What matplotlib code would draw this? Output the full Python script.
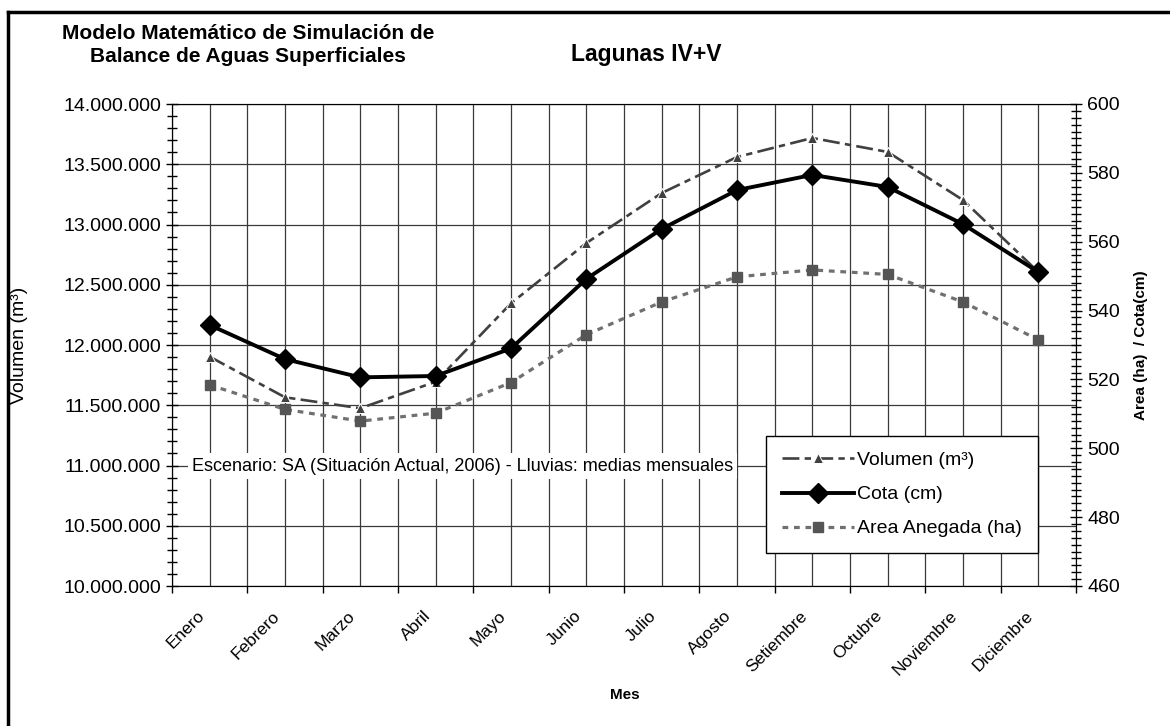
import matplotlib
matplotlib.use('Agg')
import matplotlib.pyplot as plt
from matplotlib.ticker import FixedLocator, MultipleLocator, FuncFormatter, NullFormatter
from matplotlib.lines import Line2D
from matplotlib.transforms import ScaledTranslation

plt.rcParams['font.family'] = ['Liberation Sans', 'DejaVu Sans']

# datos
meses = ['Enero', 'Febrero', 'Marzo', 'Abril', 'Mayo', 'Junio', 'Julio',
         'Agosto', 'Setiembre', 'Octubre', 'Noviembre', 'Diciembre']
volumen = [11903000, 11566000, 11475000, 11695000, 12346000, 12846000,
           13261000, 13560000, 13718000, 13602000, 13203000, 12606000]
cota = [535.8, 525.9, 520.6, 521.0, 529.0, 549.2, 563.7, 575.0, 579.4, 575.9, 565.1, 551.2]
area = [518.4, 511.3, 507.9, 510.2, 519.1, 533.0, 542.5, 549.8, 551.8, 550.5, 542.5, 531.5]

W, H = 1170, 726
fig = plt.figure(figsize=(W / 100, H / 100), dpi=100)
ax = fig.add_axes([172 / W, 1 - 586 / H, (1076 - 172) / W, (586 - 104) / H])
ax2 = ax.twinx()

x = list(range(len(meses)))

# eje izquierdo (volumen)
ax.set_xlim(-0.5, len(meses) - 0.5)
ax.set_ylim(10000000, 14000000)
ax.yaxis.set_major_locator(MultipleLocator(500000))
ax.yaxis.set_minor_locator(MultipleLocator(100000))
ax.yaxis.set_major_formatter(FuncFormatter(lambda v, p: f'{int(v):,}'.replace(',', '.')))
ax.tick_params(axis='y', which='major', direction='inout', length=9, width=1, labelsize=14)
ax.tick_params(axis='y', which='minor', direction='inout', length=7, width=1)

# eje x: limites de categoria como ticks, nombres en el centro
ax.xaxis.set_major_locator(FixedLocator([i - 0.5 for i in range(len(meses) + 1)]))
ax.xaxis.set_major_formatter(NullFormatter())
ax.xaxis.set_minor_locator(FixedLocator(x))
ax.set_xticklabels(meses, minor=True, rotation=45, ha='right', va='top',
                   rotation_mode='anchor', fontsize=12.5)
ax.tick_params(axis='x', which='major', direction='out', length=5, width=1)
ax.tick_params(axis='x', which='minor', length=0, pad=16)
off = ScaledTranslation(-13 / 100, 0, fig.dpi_scale_trans)
for lbl in ax.get_xticklabels(minor=True):
    lbl.set_transform(lbl.get_transform() + off)

ax.grid(True, which='both', axis='x', color='#3a3a3a', lw=0.9)
ax.grid(True, which='major', axis='y', color='#3a3a3a', lw=0.9)
ax.set_axisbelow(True)
for s in ax.spines.values():
    s.set_color('#666666')
ax.spines['left'].set_color('black')
ax.spines['bottom'].set_color('#444444')

ax.plot(x, volumen, color='#404040', lw=1.9, dashes=(6.4, 2, 2.4, 2),
        marker='^', ms=6.5, mfc='#404040', mec='white', mew=0.7,
        label='Volumen (m³)', zorder=3)

# eje derecho (area y cota)
ax2.set_ylim(460, 600)
ax2.yaxis.set_major_locator(MultipleLocator(20))
ax2.yaxis.set_minor_locator(MultipleLocator(2))
ax2.tick_params(axis='y', which='major', direction='inout', length=9, width=1, labelsize=14)
ax2.tick_params(axis='y', which='minor', direction='inout', length=7, width=1)
ax2.spines['right'].set_color('black')

ax2.plot(x, area, color='#707070', lw=2.3, dashes=(1.8, 1.8),
         marker='s', ms=6.5, mfc='#555555', mec='#555555',
         label='Area Anegada (ha)', zorder=3)
ax2.plot(x, cota, color='black', lw=2.8, marker='D', ms=10,
         mfc='black', mec='black', label='Cota (cm)', zorder=4)

fig.text(20 / W, 1 - 345 / H, 'Volumen (m³)', rotation=90, ha='center', va='center', fontsize=14)
fig.text(1141 / W, 1 - 345 / H, 'Area (ha)  / Cota(cm)', rotation=90, ha='center', va='center',
         fontsize=11, fontweight='bold')
fig.text(625 / W, 1 - 695 / H, 'Mes', ha='center', va='center', fontsize=11, fontweight='bold')

ax2.text(192 / W, 1 - 466 / H, 'Escenario: SA (Situación Actual, 2006) - Lluvias: medias mensuales',
         transform=fig.transFigure, fontsize=13, va='center', ha='left',
         bbox=dict(facecolor='white', edgecolor='none', pad=3), zorder=5)

# titulos
fig.text(248 / W, 1 - 45 / H, 'Modelo Matemático de Simulación de\nBalance de Aguas Superficiales',
         ha='center', va='center', fontsize=15, fontweight='bold', linespacing=1.25)
fig.text(646 / W, 1 - 54 / H, 'Lagunas IV+V', ha='center', va='center',
         fontsize=16.5, fontweight='bold')

# leyenda
handles = [ax.get_lines()[0], ax2.get_lines()[1], ax2.get_lines()[0]]
labels = ['Volumen (m³)', 'Cota (cm)', 'Area Anegada (ha)']
leg = fig.legend(handles, labels, loc='upper left',
                 bbox_to_anchor=(766 / W, 1 - 436 / H), fontsize=14,
                 frameon=True, fancybox=False, edgecolor='black', framealpha=1,
                 handlelength=3.7, handletextpad=0.2, labelspacing=0.85,
                 borderpad=0.8, borderaxespad=0)
leg.get_frame().set_linewidth(1)
leg.set_zorder(10)

# marco exterior
fig.add_artist(Line2D([8 / W, 1], [1 - 12 / H, 1 - 12 / H], transform=fig.transFigure,
                      color='black', lw=2.5))
fig.add_artist(Line2D([8 / W, 8 / W], [0, 1 - 12 / H], transform=fig.transFigure,
                      color='black', lw=2.5))

fig.savefig('out.png', dpi=100, facecolor='white')
